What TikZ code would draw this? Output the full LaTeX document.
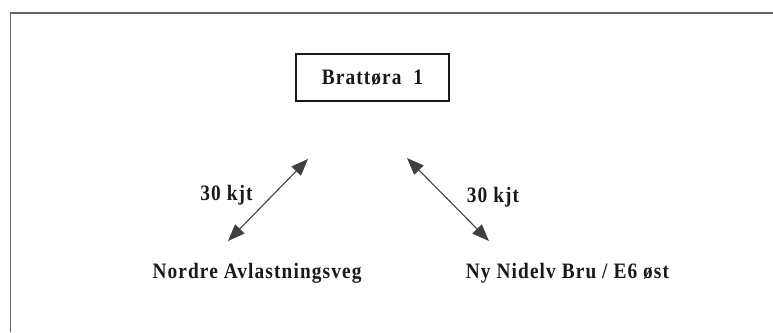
\documentclass[tikz,border=0pt]{standalone}
\usepackage{fontspec}
\setmainfont{Liberation Serif}[LetterSpace=5, FakeStretch=0.88]
\usetikzlibrary{arrows.meta}
\tikzset{
  frameline/.style={draw=black!60, line width=1.5pt},
  placebox/.style={draw=black!90, line width=1.4pt, minimum width=153pt, minimum height=47pt, inner sep=0pt},
  placetext/.style={font=\fontsize{22}{24}\selectfont\bfseries, text=black!90, inner sep=0pt},
  flowarrow/.style={draw=black!75, line width=1.1pt, {Triangle[length=17pt,width=13pt]}-{Triangle[length=17pt,width=13pt]}},
}
\begin{document}
\begin{tikzpicture}[x=1pt, y=-1pt]
  \useasboundingbox (0,0) rectangle (773,332);
  % open frame: top and left edges only
  \draw[frameline] (10.5,332) -- (10.5,13) -- (773,13);

  \node[placebox, placetext] (brattora) at (372.5,77.5) {Brattøra\ \ 1};

  \node[placetext] (nordre) at (257,273) {Nordre Avlastningsveg};
  \node[placetext] (nidelv) at (567.5,273) {Ny Nidelv Bru / E6 øst};

  \coordinate (lefttop) at (308,159);
  \coordinate (leftbot) at (228,241);
  \coordinate (righttop) at (407,158);
  \coordinate (rightbot) at (489,241);

  \draw[flowarrow] (leftbot) -- (lefttop);
  \draw[flowarrow] (righttop) -- (rightbot);

  \node[placetext] (leftlabel) at (226.5,195) {30 kjt};
  \node[placetext] (rightlabel) at (493,197) {30 kjt};
\end{tikzpicture}
\end{document}
